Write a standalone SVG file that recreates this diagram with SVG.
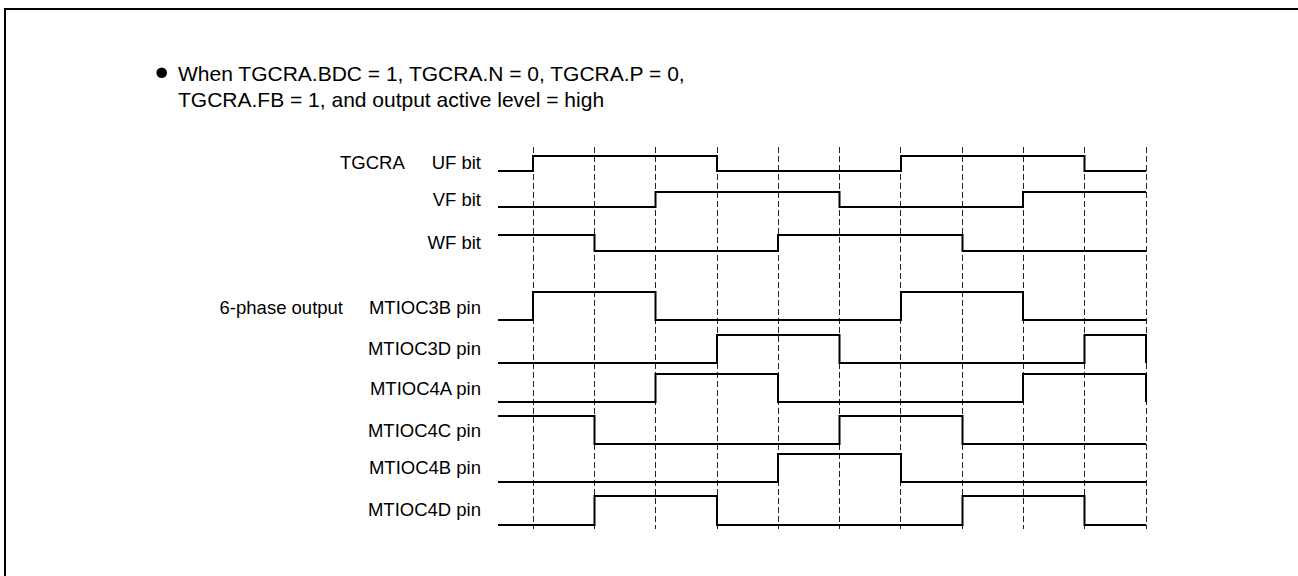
<svg xmlns="http://www.w3.org/2000/svg" width="1298" height="576" viewBox="0 0 1298 576">
<style>
text{font-family:"Liberation Sans",Arial,sans-serif;fill:#000}
.h{font-size:21px}
.l{font-size:18.5px;text-anchor:end}
.s{font-size:18.5px}
.w{fill:none;stroke:#000;stroke-width:2;stroke-linejoin:miter}
.g{stroke:#222;stroke-width:1;stroke-dasharray:6,3;fill:none}
</style>
<rect x="5" y="9" width="1400" height="700" fill="none" stroke="#000" stroke-width="2"/>
<g id="heading">
<circle cx="161.7" cy="72.7" r="5.3" fill="#000"/>
<text class="h" x="178" y="80.7">When TGCRA.BDC = 1, TGCRA.N = 0, TGCRA.P = 0,</text>
<text class="h" x="178" y="106.7">TGCRA.FB = 1, and output active level = high</text>
</g>
<g id="connectors">
<path class="g" d="M533.5,147V529M594.5,147V529M655.5,147V529M717.5,147V529M778.5,147V529M839.5,147V529M900.5,147V529M962.5,147V529M1023.5,147V529M1084.5,147V529M1146.5,147V529"/>
</g>
<g id="group-labels">
<text class="s" x="340" y="169">TGCRA</text>
<text class="s" x="343" y="314" text-anchor="end">6-phase output</text>
</g>
<g id="uf"><text class="l" x="481" y="169">UF bit</text><path class="w" d="M498,171H533V156H717V171H901V156H1084.5V171H1146"/></g>
<g id="vf"><text class="l" x="481" y="206">VF bit</text><path class="w" d="M498,207H655.5V192H839.5V207H1023V192H1146"/></g>
<g id="wf"><text class="l" x="481" y="249">WF bit</text><path class="w" d="M498,235H594.5V251H778V235H962.5V251H1146"/></g>
<g id="mtioc3b"><text class="l" x="481" y="314">MTIOC3B pin</text><path class="w" d="M498,320H533V292H655.5V320H901V292H1023V320H1146"/></g>
<g id="mtioc3d"><text class="l" x="481" y="355">MTIOC3D pin</text><path class="w" d="M498,363H717V335H839.5V363H1084.5V335H1146V363"/></g>
<g id="mtioc4a"><text class="l" x="481" y="395">MTIOC4A pin</text><path class="w" d="M498,402H655.5V374H778V402H1023V374H1146V402"/></g>
<g id="mtioc4c"><text class="l" x="481" y="436.5">MTIOC4C pin</text><path class="w" d="M498,416H594.5V444H839.5V416H962.5V444H1146"/></g>
<g id="mtioc4b"><text class="l" x="481" y="474">MTIOC4B pin</text><path class="w" d="M498,482H778V454H901V482H1146"/></g>
<g id="mtioc4d"><text class="l" x="481" y="516">MTIOC4D pin</text><path class="w" d="M498,525H594.5V496H717V525H962.5V496H1084.5V525H1146"/></g>
</svg>
